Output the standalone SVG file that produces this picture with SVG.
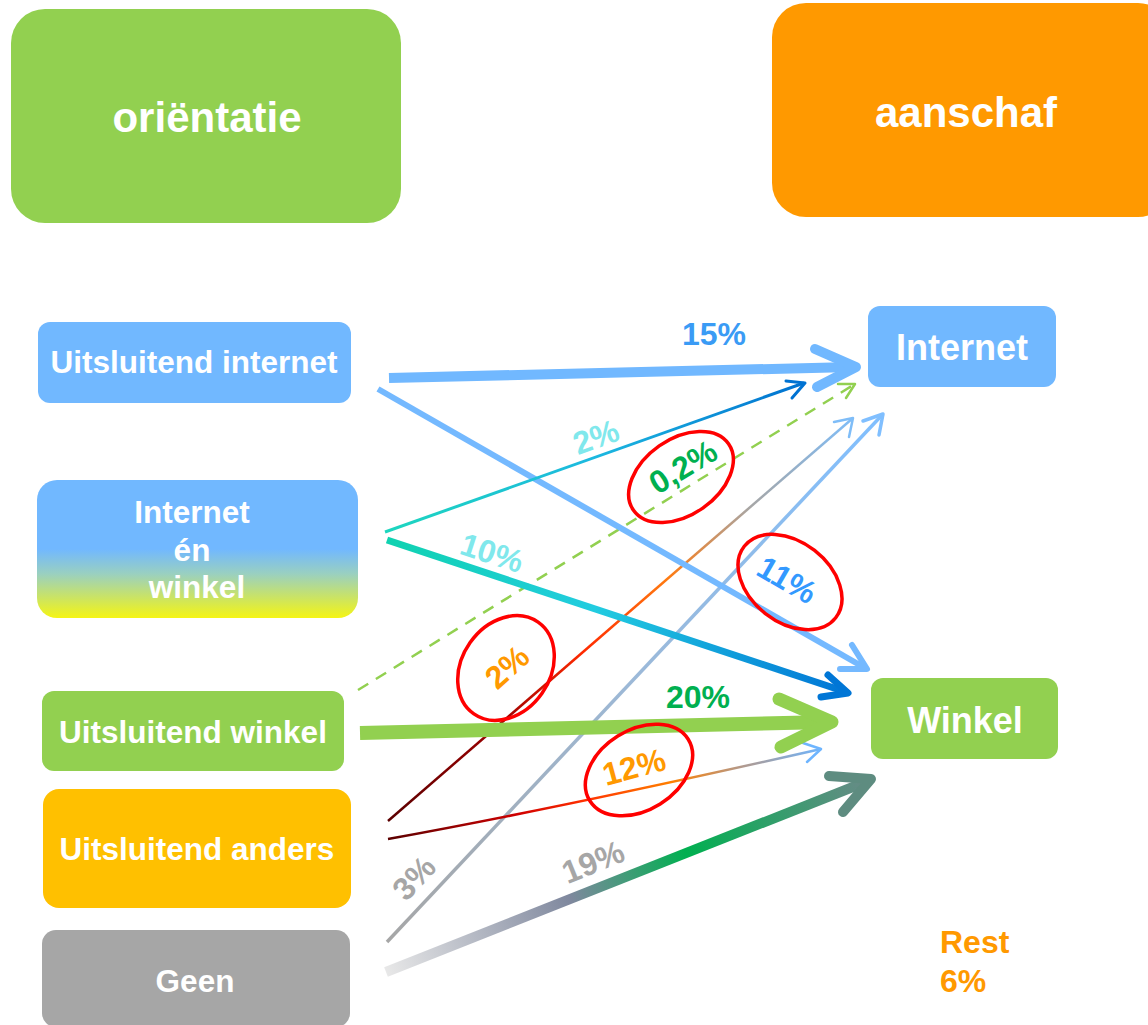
<svg xmlns="http://www.w3.org/2000/svg" width="1148" height="1025" viewBox="0 0 1148 1025">
<style>
.nt{font-family:"Liberation Sans",Arial,sans-serif;font-weight:bold;fill:#fff;text-anchor:middle}
.lb{font-family:"Liberation Sans",Arial,sans-serif;font-weight:bold;font-size:32px;text-anchor:middle}
.ring{fill:none;stroke:#FF0000;stroke-width:3.5}
.ah{fill:none;stroke-linecap:round;stroke-linejoin:round}
</style>
<defs>
<linearGradient id="gBoth" x1="0" y1="0" x2="0" y2="1">
<stop offset="0" stop-color="#71B8FF"/>
<stop offset="0.5" stop-color="#71B8FF"/>
<stop offset="0.68" stop-color="#9AD0C0"/>
<stop offset="1" stop-color="#F5F514"/>
</linearGradient>
<linearGradient id="g2" gradientUnits="userSpaceOnUse" x1="385" y1="532" x2="805" y2="383">
<stop offset="0" stop-color="#1DD6BE"/>
<stop offset="0.5" stop-color="#1CB8E0"/>
<stop offset="1" stop-color="#0070D0"/>
</linearGradient>
<linearGradient id="g10" gradientUnits="userSpaceOnUse" x1="387" y1="540" x2="848" y2="693">
<stop offset="0" stop-color="#10D2B0"/>
<stop offset="0.45" stop-color="#22CCE0"/>
<stop offset="1" stop-color="#0074D6"/>
</linearGradient>
<linearGradient id="gA1" gradientUnits="userSpaceOnUse" x1="388" y1="821" x2="853" y2="418">
<stop offset="0" stop-color="#5A0000"/>
<stop offset="0.25" stop-color="#A00000"/>
<stop offset="0.42" stop-color="#FF2A00"/>
<stop offset="0.6" stop-color="#FF7A10"/>
<stop offset="0.78" stop-color="#A6A6A6"/>
<stop offset="1" stop-color="#7FBDF8"/>
</linearGradient>
<linearGradient id="gG1" gradientUnits="userSpaceOnUse" x1="387" y1="942" x2="884" y2="414">
<stop offset="0" stop-color="#A6A6A6"/>
<stop offset="0.5" stop-color="#9CB9D8"/>
<stop offset="1" stop-color="#80BFFF"/>
</linearGradient>
<linearGradient id="gA2" gradientUnits="userSpaceOnUse" x1="388" y1="839" x2="822" y2="749">
<stop offset="0" stop-color="#5A0000"/>
<stop offset="0.3" stop-color="#D00000"/>
<stop offset="0.45" stop-color="#FF3000"/>
<stop offset="0.65" stop-color="#FF8000"/>
<stop offset="0.82" stop-color="#B09A90"/>
<stop offset="1" stop-color="#6EB5FF"/>
</linearGradient>
<linearGradient id="g19" gradientUnits="userSpaceOnUse" x1="386" y1="972" x2="870" y2="780">
<stop offset="0" stop-color="#E8E8E8"/>
<stop offset="0.38" stop-color="#7F889E"/>
<stop offset="0.62" stop-color="#00B050"/>
<stop offset="1" stop-color="#6A8A88"/>
</linearGradient>
</defs>

<rect width="1148" height="1025" fill="#fff"/>

<g id="orientatie">
<rect x="11" y="9" width="390" height="214" rx="34" fill="#92D050"/>
<text class="nt" x="207" y="132" font-size="42">oriëntatie</text>
</g>
<g id="aanschaf">
<rect x="772" y="3" width="400" height="214" rx="34" fill="#FF9900"/>
<text class="nt" x="966" y="127" font-size="42">aanschaf</text>
</g>

<g id="uitsluitend-internet">
<rect x="38" y="322" width="313" height="81" rx="12" fill="#71B8FF"/>
<text class="nt" x="194" y="373" font-size="31.5">Uitsluitend internet</text>
</g>
<g id="internet-en-winkel">
<rect x="37" y="480" width="321" height="138" rx="20" fill="url(#gBoth)"/>
<text class="nt" x="192" y="523" font-size="31.5">Internet</text>
<text class="nt" x="192" y="561" font-size="31.5">én</text>
<text class="nt" x="197" y="598" font-size="31.5">winkel</text>
</g>
<g id="uitsluitend-winkel">
<rect x="42" y="691" width="302" height="80" rx="12" fill="#92D050"/>
<text class="nt" x="193" y="743" font-size="31.5">Uitsluitend winkel</text>
</g>
<g id="uitsluitend-anders">
<rect x="43" y="789" width="308" height="119" rx="16" fill="#FFC000"/>
<text class="nt" x="197" y="860" font-size="31.5">Uitsluitend anders</text>
</g>
<g id="geen">
<rect x="42" y="930" width="308" height="97" rx="14" fill="#A6A6A6"/>
<text class="nt" x="195" y="992" font-size="31.5">Geen</text>
</g>

<g id="internet">
<rect x="868" y="306" width="188" height="81" rx="12" fill="#71B8FF"/>
<text class="nt" x="962" y="360" font-size="36">Internet</text>
</g>
<g id="winkel">
<rect x="871" y="678" width="187" height="81" rx="12" fill="#92D050"/>
<text class="nt" x="965" y="733" font-size="36">Winkel</text>
</g>

<g id="connectors">
<line x1="358" y1="690" x2="855" y2="384" stroke="#92D050" stroke-width="2.5" stroke-dasharray="12 9"/>
<polyline class="ah" points="838,384 855,384 846,398" stroke="#92D050" stroke-width="2.5"/>
<line x1="388" y1="821" x2="853" y2="418" stroke="url(#gA1)" stroke-width="2.5"/>
<polyline class="ah" points="834,422 853,418 849,437" stroke="#7FBDF8" stroke-width="2.5"/>
<line x1="387" y1="942" x2="883" y2="414" stroke="url(#gG1)" stroke-width="3.5"/>
<polyline class="ah" points="863,421 883,414 879,435" stroke="#80BFFF" stroke-width="3.5"/>
<path d="M388,839 Q560,808 821,749" fill="none" stroke="url(#gA2)" stroke-width="2.5"/>
<polyline class="ah" points="803,743 821,749 807,762" stroke="#6EB5FF" stroke-width="2.5"/>
<line x1="389" y1="378" x2="852" y2="367" stroke="#71B8FF" stroke-width="10"/>
<polyline class="ah" points="815,349 856,367 817,387" stroke="#71B8FF" stroke-width="10"/>
<line x1="378" y1="389" x2="865" y2="668" stroke="#74B9FF" stroke-width="6"/>
<polyline class="ah" points="852,645 867,669 840,669" stroke="#74B9FF" stroke-width="6"/>
<line x1="385" y1="532" x2="804" y2="383" stroke="url(#g2)" stroke-width="3"/>
<polyline class="ah" points="786,381 805,383 792,398" stroke="#0072D2" stroke-width="3"/>
<line x1="387" y1="540" x2="846" y2="692" stroke="url(#g10)" stroke-width="7"/>
<polyline class="ah" points="828,675 848,693 821,697" stroke="#0076D6" stroke-width="7"/>
<line x1="360" y1="733" x2="828" y2="722" stroke="#92D050" stroke-width="14"/>
<polyline class="ah" points="779,699 832,722 781,747" stroke="#92D050" stroke-width="13"/>
<line x1="386" y1="972" x2="868" y2="781" stroke="url(#g19)" stroke-width="10"/>
<polyline class="ah" points="829,776 871,779 843,812" stroke="#5E8C80" stroke-width="10"/>
</g>

<g id="labels">
<text class="lb" x="714" y="345" fill="#3A9BF5">15%</text>
<text class="lb" x="698" y="708" fill="#00B050">20%</text>
<text class="lb" transform="translate(596,437) rotate(-20)" y="11" fill="#80E8EC">2%</text>
<text class="lb" transform="translate(492,553) rotate(18)" y="11" fill="#80E8EC">10%</text>
<text class="lb" transform="translate(414,878) rotate(-47)" y="11" fill="#A6A6A6">3%</text>
<text class="lb" transform="translate(593,862) rotate(-22)" y="11" fill="#A6A6A6">19%</text>
<text class="lb" transform="translate(683,467) rotate(-31)" y="11" fill="#00B050">0,2%</text>
<text class="lb" transform="translate(787,580) rotate(30)" y="11" fill="#3399FF">11%</text>
<text class="lb" transform="translate(507,667) rotate(-42)" y="11" fill="#FF9900">2%</text>
<text class="lb" transform="translate(634,767) rotate(-15)" y="11" fill="#FF9900">12%</text>
<text class="lb" x="940" y="953" fill="#FF9900" style="text-anchor:start" font-size="30">Rest</text>
<text class="lb" x="940" y="992" fill="#FF9900" style="text-anchor:start" font-size="30">6%</text>
</g>

<g id="rings">
<ellipse class="ring" cx="681" cy="477" rx="58" ry="38" transform="rotate(-35 681 477)"/>
<ellipse class="ring" cx="790" cy="582" rx="58" ry="40" transform="rotate(38 790 582)"/>
<ellipse class="ring" cx="506" cy="668" rx="56" ry="44" transform="rotate(-55 506 668)"/>
<ellipse class="ring" cx="639" cy="770" rx="58" ry="40" transform="rotate(-32 639 770)"/>
</g>
</svg>
